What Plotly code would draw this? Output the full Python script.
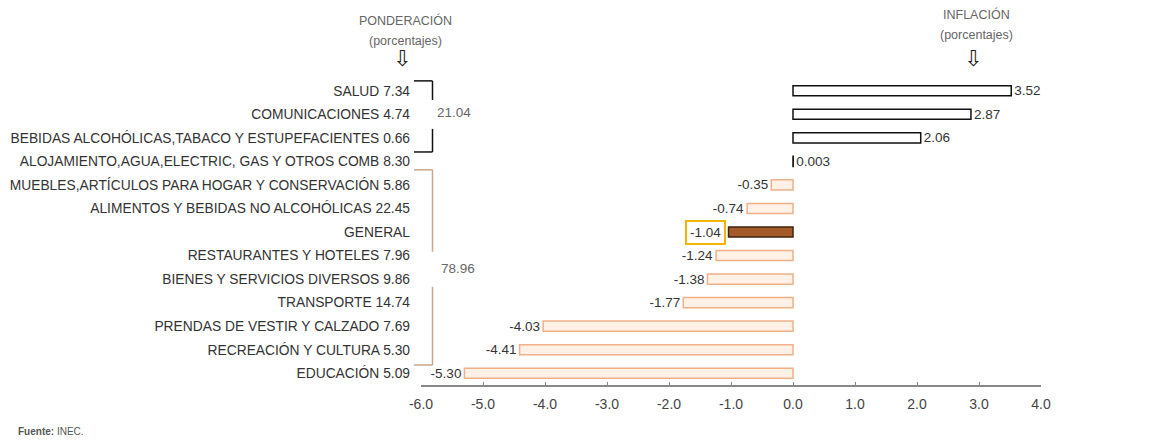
import plotly.graph_objects as go

# Consumer price groups, top to bottom
categorias = [
    "SALUD",
    "COMUNICACIONES",
    "BEBIDAS ALCOHÓLICAS,TABACO Y ESTUPEFACIENTES",
    "ALOJAMIENTO,AGUA,ELECTRIC, GAS Y OTROS COMB",
    "MUEBLES,ARTÍCULOS PARA HOGAR Y CONSERVACIÓN",
    "ALIMENTOS Y BEBIDAS NO ALCOHÓLICAS",
    "GENERAL",
    "RESTAURANTES Y HOTELES",
    "BIENES Y SERVICIOS DIVERSOS",
    "TRANSPORTE",
    "PRENDAS DE VESTIR Y CALZADO",
    "RECREACIÓN Y CULTURA",
    "EDUCACIÓN",
]
ponderacion = [7.34, 4.74, 0.66, 8.30, 5.86, 22.45, None, 7.96, 9.86, 14.74, 7.69, 5.30, 5.09]
inflacion = [3.52, 2.87, 2.06, 0.003, -0.35, -0.74, -1.04, -1.24, -1.38, -1.77, -4.03, -4.41, -5.30]

grupo_alza = 21.04
grupo_baja = 78.96

x_ticks = [-6, -5, -4, -3, -2, -1, 0, 1, 2, 3, 4]

FONT = "Liberation Sans, Arial, sans-serif"

# plot area in pixels
W, H = 1150, 442
L, R, T, B = 421, 109, 79, 57
PW, PH = W - L - R, H - T - B


def px(x):
    return (x - L) / PW


def py(y):
    return (H - B - y) / PH


def fmt(v):
    return f"{v:.2f}" if abs(v) >= 0.01 else f"{v:.3f}"


ticktext = [c if p is None else f"{c} {p:.2f}" for c, p in zip(categorias, ponderacion)]

fill, edge, texts = [], [], []
for c, v in zip(categorias, inflacion):
    if c == "GENERAL":
        fill.append("#a55a2a")
        edge.append("#3d2410")
        texts.append("")
    elif v >= 0:
        fill.append("#ffffff")
        edge.append("#111111")
        texts.append(fmt(v))
    else:
        fill.append("#fff1e6")
        edge.append("#f0b088")
        texts.append(fmt(v))

fig = go.Figure()
fig.add_trace(go.Bar(
    y=categorias, x=inflacion, orientation="h", width=0.43,
    marker=dict(color=fill, line=dict(color=edge, width=1.5)),
    text=texts, textposition="outside", cliponaxis=False, constraintext="none",
    textfont=dict(family=FONT, size=13.5, color="#333333"),
    hoverinfo="skip", showlegend=False,
))

shapes = []
annotations = []


def bracket(top, mid_a, mid_b, bottom, color):
    x0, x1 = px(414), px(432.5)
    segs = [
        (x0, top, x1, top),
        (x1, top, x1, mid_a),
        (x1, mid_b, x1, bottom),
        (x0, bottom, x1, bottom),
    ]
    for a, b, c, d in segs:
        shapes.append(dict(type="line", xref="paper", yref="y", x0=a, y0=b, x1=c, y1=d,
                           line=dict(color=color, width=1.5)))


bracket(-0.42, 0.39, 1.62, 2.60, "#111111")
bracket(3.36, 6.84, 8.33, 11.65, "#c9a68c")

annotations.append(dict(x=px(435), y=0.94, xref="paper", yref="y", text=f"{grupo_alza:.2f}",
                        showarrow=False, xanchor="left",
                        font=dict(family=FONT, size=13.5, color="#666666")))
annotations.append(dict(x=px(439), y=7.57, xref="paper", yref="y", text=f"{grupo_baja:.2f}",
                        showarrow=False, xanchor="left",
                        font=dict(family=FONT, size=13.5, color="#666666")))

# Boxed label for the general index
gi = categorias.index("GENERAL")
annotations.append(dict(x=inflacion[gi], y=categorias[gi], xref="x", yref="y",
                        text=fmt(inflacion[gi]), showarrow=False, xanchor="right", xshift=-3,
                        bordercolor="#f2b400", borderwidth=2, borderpad=3, bgcolor="#ffffff",
                        font=dict(family=FONT, size=13.5, color="#333333")))

# Column headers
hdr_font = dict(family=FONT, size=12.5, color="#666666")
arr_font = dict(family="DejaVu Sans", size=22, color="#222222")
for xc, y1, y2, y3, t in [(405, 20, 41, 58, "PONDERACIÓN"), (976, 14, 35, 58, "INFLACIÓN")]:
    annotations.append(dict(x=px(xc), y=py(y1), xref="paper", yref="paper", text=t,
                            showarrow=False, font=hdr_font, xanchor="center", yanchor="middle"))
    annotations.append(dict(x=px(xc), y=py(y2), xref="paper", yref="paper",
                            text="(porcentajes)", showarrow=False, font=hdr_font,
                            xanchor="center", yanchor="middle"))
    annotations.append(dict(x=px(xc - 3), y=py(y3), xref="paper", yref="paper",
                            text="⇩", showarrow=False, font=arr_font,
                            xanchor="center", yanchor="middle"))

annotations.append(dict(x=px(16), y=py(432), xref="paper", yref="paper",
                        text="<b>Fuente:</b> INEC.", showarrow=False, xanchor="left",
                        yanchor="middle", font=dict(family=FONT, size=10, color="#555555")))

fig.update_layout(
    width=W, height=H,
    margin=dict(l=L, r=R, t=T, b=B, autoexpand=False),
    paper_bgcolor="#ffffff", plot_bgcolor="#ffffff",
    xaxis=dict(
        range=[-6, 4], tickvals=x_ticks, ticktext=[f"{v:.1f}" for v in x_ticks],
        ticks="inside", ticklen=3, tickcolor="#888888", tickwidth=1,
        showline=True, linecolor="#888888", linewidth=1.5, automargin=False,
        showgrid=False, zeroline=False, ticklabelstandoff=5,
        tickfont=dict(family=FONT, size=14, color="#444444"),
    ),
    yaxis=dict(
        type="category", range=[12.5, -0.5], tickvals=categorias, ticktext=ticktext,
        showline=False, showgrid=False, zeroline=False, ticks="", automargin=False,
        ticklabelstandoff=10,
        tickfont=dict(family=FONT, size=13.8, color="#333333"),
    ),
    yaxis2=dict(
        overlaying="y", anchor="free", position=0.6, side="right", automargin=False,
        range=[12.5, -0.5], tickvals=[i * 0.5 - 0.5 for i in range(27)],
        showticklabels=False, ticks="outside", ticklen=4, tickwidth=1.5, tickcolor="#111111",
        showline=True, linecolor="#111111", linewidth=1.5,
        showgrid=False, zeroline=False,
    ),
    shapes=shapes,
    annotations=annotations,
)

fig.write_html("out.html")
